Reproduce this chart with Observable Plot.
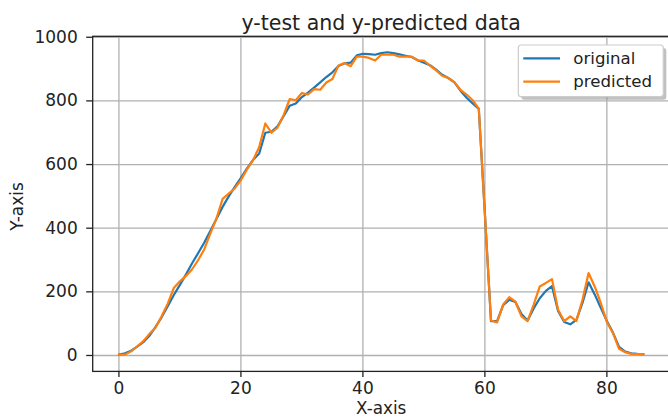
<!DOCTYPE html>
<html>
<head>
<meta charset="utf-8">
<script src="https://cdn.jsdelivr.net/npm/d3@7"></script>
<script src="https://cdn.jsdelivr.net/npm/@observablehq/plot@0.6"></script>
<style>
  html, body { margin: 0; padding: 0; background: white; overflow: hidden; }
  #chart svg { overflow: hidden; }
</style>
</head>
<body>
<div id="chart"></div>
<script>
const titleText = "y-test and y-predicted data";
const xLabel = "X-axis";
const yLabel = "Y-axis";
const seriesNames = ["original", "predicted"];
const seriesColors = ["#1f77b4", "#ff7f0e"];
const xTicks = [0, 20, 40, 60, 80];
const yTicks = [0, 200, 400, 600, 800, 1000];

const original = [3,7,15,28,42,62,90,120,155,190,
  222,255,290,322,355,392,430,467,500,530,
  558,588,615,635,700,703,720,752,785,792,
  812,826,842,858,875,890,910,918,920,943,
  948,947,945,950,953,950,946,942,938,928,
  920,912,898,882,872,858,832,810,792,775,
  445,108,108,158,175,168,130,110,148,180,
  203,218,140,105,98,112,165,230,192,150,
  108,72,27,12,7,5,4];

const predicted = [3,3,13,29,45,68,87,123,163,212,
  233,250,271,300,334,384,431,492,509,525,
  551,585,614,655,729,700,716,755,806,802,
  825,820,837,835,858,869,911,919,909,939,
  939,935,927,945,945,945,939,939,939,927,
  927,911,896,879,872,859,835,820,802,776,
  445,110,104,160,183,169,123,108,160,217,
  228,240,144,108,123,108,175,259,217,165,
  105,70,21,10,5,4,4];

const gridStyle = {stroke: "#b0b0b0", strokeOpacity: 1, strokeWidth: 1.3};
const fmt = d => String(d);

const plot = Plot.plot({
  width: 668,
  height: 418,
  marginLeft: 92.2,
  marginRight: -1.2,
  marginTop: 35.8,
  marginBottom: 47.1,
  x: {domain: [-4.3, 90.3]},
  y: {domain: [-50, 1003]},
  style: {fontFamily: "DejaVu Sans", fontSize: "17px", color: "#222", background: "white"},
  marks: [
    Plot.gridX(xTicks, gridStyle),
    Plot.gridY(yTicks, gridStyle),
    Plot.line(original, {x: (d, i) => i, y: d => d, stroke: seriesColors[0], strokeWidth: 2.2}),
    Plot.line(predicted, {x: (d, i) => i, y: d => d, stroke: seriesColors[1], strokeWidth: 2.2}),
    Plot.frame({stroke: "#222", strokeWidth: 1.3}),
    Plot.axisX(xTicks, {tickSize: 6, tickPadding: 5, strokeWidth: 1.3, label: null, fontSize: 17, tickFormat: fmt}),
    Plot.axisY(yTicks, {tickSize: 6, tickPadding: 9, strokeWidth: 1.3, label: null, fontSize: 17, tickFormat: fmt}),
    Plot.text([titleText], {frameAnchor: "top", lineAnchor: "bottom", dy: -6.8, fontSize: 20.5, fill: "#222"}),
    Plot.text([xLabel], {frameAnchor: "bottom", lineAnchor: "bottom", dy: 43, fontSize: 16.8, fill: "#222"}),
    Plot.text([yLabel], {frameAnchor: "left", rotate: -90, lineAnchor: "bottom", textAnchor: "middle", dx: -69.7, dy: 2.6, fontSize: 17, fill: "#222"})
  ]
});

document.getElementById("chart").appendChild(plot);

// Legend (matplotlib style with shadow)
const svg = d3.select(plot);
const lg = svg.append("g").attr("class", "legend").attr("text-anchor", "start");
const bx = 518.3, by = 45, bw = 145, bh = 51.7;
lg.append("rect").attr("x", bx + 3).attr("y", by + 3).attr("width", bw).attr("height", bh)
  .attr("rx", 3).attr("fill", "#8c8c8c").attr("fill-opacity", 0.55);
lg.append("rect").attr("x", bx).attr("y", by).attr("width", bw).attr("height", bh)
  .attr("rx", 3).attr("fill", "white").attr("stroke", "#cccccc").attr("stroke-width", 1.2);
seriesNames.forEach((name, i) => {
  const yy = 58.3 + i * 23.4;
  lg.append("line").attr("x1", 523.3).attr("x2", 560).attr("y1", yy).attr("y2", yy)
    .attr("stroke", seriesColors[i]).attr("stroke-width", 2.2);
  lg.append("text").attr("x", 573.3).attr("y", yy).attr("dy", "0.32em")
    .attr("text-anchor", "start")
    .attr("font-family", "DejaVu Sans").attr("font-size", 16.6).attr("fill", "#222")
    .text(name);
});
</script>
</body>
</html>
